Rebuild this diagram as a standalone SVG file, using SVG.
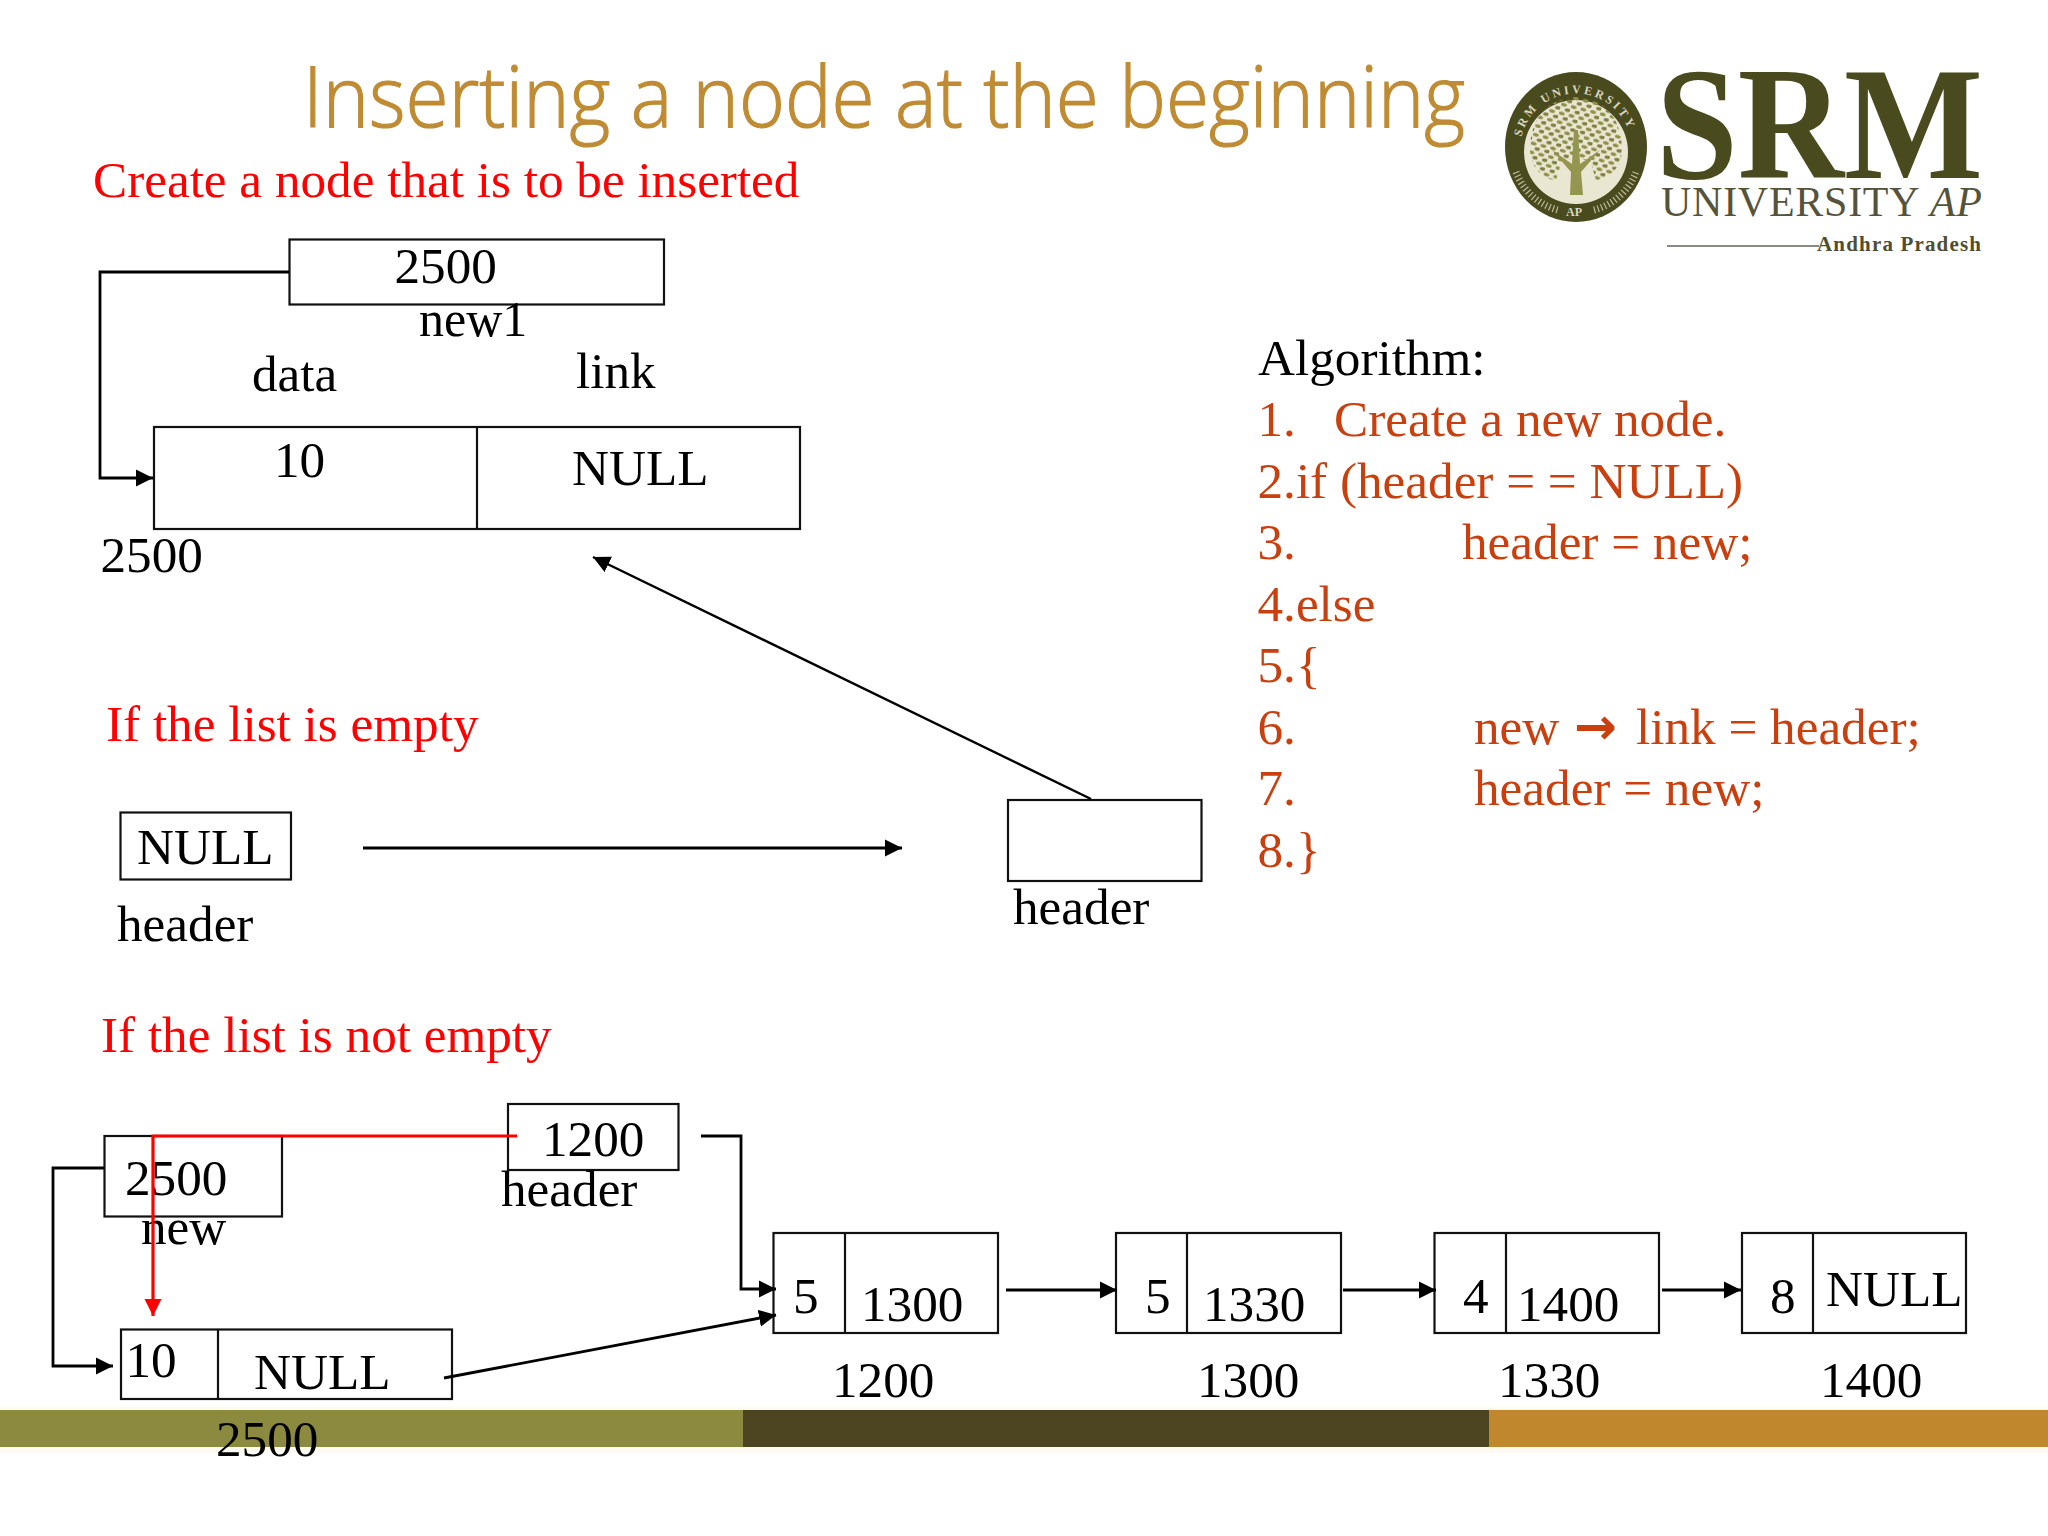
<svg xmlns="http://www.w3.org/2000/svg" width="2048" height="1536" viewBox="0 0 2048 1536">
<style>
.t{font-family:"Liberation Serif","Times New Roman",serif;font-size:51.2px;fill:#000}
.r{fill:#f00}
.a{fill:#c93f0e}
.b{fill:#fff;stroke:#111;stroke-width:2.2}
.d{fill:none;stroke:#111;stroke-width:2.2}
.c{fill:none;stroke:#000;stroke-width:2.8}
.m{fill:none;stroke:#f00;stroke-width:3.2}
.o{font-family:"Liberation Serif","Times New Roman",serif;fill:#4a4a1f}
</style>
<defs>
<marker id="ah" markerUnits="userSpaceOnUse" markerWidth="18" markerHeight="18" refX="17" refY="9" orient="auto"><path d="M0,0.5 L17,9 L0,17.5Z" fill="#000"/></marker>
<marker id="ahr" markerUnits="userSpaceOnUse" markerWidth="18" markerHeight="18" refX="17" refY="9" orient="auto"><path d="M0,0.5 L17,9 L0,17.5Z" fill="#f00"/></marker>
<pattern id="leaf" width="10" height="9" patternUnits="userSpaceOnUse" patternTransform="rotate(14)"><ellipse cx="2.8" cy="2.2" rx="3" ry="1.8" fill="#8f9048"/><ellipse cx="7.8" cy="6.7" rx="3" ry="1.8" fill="#7d7f3e"/></pattern>
<clipPath id="canopy"><path d="M1530,150 C1530,112 1555,97 1576,97 C1597,97 1622,112 1622,150 C1622,165 1610,180 1596,180 L1590,160 L1562,160 L1556,180 C1542,180 1530,165 1530,150Z"/></clipPath>
<path id="ringTop" d="M1521,160 A56,56 0 1 1 1631,160"/>
</defs>
<rect width="2048" height="1536" fill="#fff"/>

<g id="band">
<rect x="0" y="1407" width="2048" height="46" fill="#fdfbf1"/>
<rect x="0" y="1410" width="743" height="37" fill="#8b8a3e"/>
<rect x="743" y="1410" width="746" height="37" fill="#4d4522"/>
<rect x="1489" y="1410" width="559" height="37" fill="#c0872c"/>
</g>

<g id="title"><text x="303" y="127" font-family="'Open Sans','Noto Sans',sans-serif" font-weight="300" font-size="85" fill="#bf8b33" stroke="#bf8b33" stroke-width="1.2" textLength="1162" lengthAdjust="spacingAndGlyphs">Inserting a node at the beginning</text></g>

<g id="logo">
<ellipse cx="1576" cy="147" rx="71" ry="75" fill="#4a4a1f"/>
<ellipse cx="1576" cy="152" rx="52" ry="52" fill="#e9e6d2"/>
<path d="M1516,172 A62,62 0 0 0 1558,210 M1594,210 A62,62 0 0 0 1636,172" fill="none" stroke="#bdbc9a" stroke-width="7" stroke-dasharray="1.2 2.6"/>
<text class="o" font-size="12" font-weight="bold" letter-spacing="2.8" style="fill:#d9d7bf"><textPath href="#ringTop" startOffset="23">SRM UNIVERSITY</textPath></text>
<text class="o" x="1566" y="216" font-size="12" font-weight="bold" style="fill:#d9d7bf">AP</text>
<rect x="1525" y="95" width="102" height="90" fill="url(#leaf)" clip-path="url(#canopy)"/>
<path d="M1570,195 L1583,195 L1581,172 L1600,150 L1580,164 L1578,130 L1574,130 L1572,164 L1552,150 L1571,172Z" fill="#94954e"/>
<text class="o" x="1656" y="178" font-size="160" font-weight="bold" textLength="327" lengthAdjust="spacingAndGlyphs">SRM</text>
<text class="o" x="1661" y="216" font-size="42" style="fill:#55543a" textLength="321">UNIVERSITY <tspan font-style="italic">AP</tspan></text>
<rect x="1667" y="245" width="152" height="2" fill="#8a8a82"/>
<text class="o" x="1817" y="251" font-size="21" font-weight="bold" style="fill:#4f4e30" textLength="164">Andhra Pradesh</text>
</g>

<g id="headings">
<text class="t r" x="93" y="197">Create a node that is to be inserted</text>
<text class="t r" x="106" y="741">If the list is empty</text>
<text class="t r" x="101" y="1052">If the list is not empty</text>
</g>

<g id="algorithm">
<text class="t" x="1258" y="375">Algorithm:</text>
<text class="t a" y="436"><tspan x="1257.5">1.</tspan><tspan x="1334">Create a new node.</tspan></text>
<text class="t a" x="1257.5" y="497.5">2.if (header = = NULL)</text>
<text class="t a" y="559"><tspan x="1257.5">3.</tspan><tspan x="1462">header = new;</tspan></text>
<text class="t a" x="1257.5" y="620.500">4.else</text>
<text class="t a" x="1257.5" y="682">5.{</text>
<text class="t a" y="744"><tspan x="1257.5">6.</tspan><tspan x="1474">new</tspan><tspan x="1574" font-family="'DejaVu Sans',sans-serif" font-weight="bold">→</tspan><tspan x="1636">link = header;</tspan></text>
<text class="t a" y="805"><tspan x="1257.5">7.</tspan><tspan x="1474">header = new;</tspan></text>
<text class="t a" x="1257.5" y="866.5">8.}</text>
</g>

<g id="node-new1"><rect class="b" x="289.500" y="239.500" width="374.500" height="65"/><text class="t" x="394.500" y="283">2500</text><text class="t" x="419" y="336" style="font-size:50px">new1</text></g>
<g id="node-first"><rect class="b" x="154" y="427" width="646" height="102"/><line class="d" x1="477" y1="427" x2="477" y2="529"/><text class="t" x="274" y="477">10</text><text class="t" x="572" y="485">NULL</text><text class="t" x="100.500" y="572">2500</text><text class="t" x="252" y="391">data</text><text class="t" x="576" y="388">link</text></g>
<g id="node-null-header"><rect class="b" x="120.500" y="812.500" width="170.500" height="67"/><text class="t" x="137" y="864">NULL</text><text class="t" x="117" y="941">header</text></g>
<g id="node-header-empty"><rect class="b" x="1008" y="800" width="193.500" height="81"/><text class="t" x="1013" y="924">header</text></g>

<g id="node-new2"><rect class="b" x="104.500" y="1136" width="177.500" height="80.500"/><text class="t" x="125" y="1195">2500</text><text class="t" x="141" y="1244">new</text></g>
<g id="node-header2"><rect class="b" x="508" y="1104" width="170.500" height="66"/><text class="t" x="542" y="1156">1200</text><text class="t" x="501" y="1206">header</text></g>
<g id="node-ins"><rect class="b" x="121" y="1329.500" width="331" height="69.500"/><line class="d" x1="218" y1="1329" x2="218" y2="1399"/><text class="t" x="125.500" y="1377">10</text><text class="t" x="254" y="1389">NULL</text><text class="t" x="216" y="1456">2500</text></g>

<g id="node-1200"><rect class="b" x="773.500" y="1233" width="224.500" height="100"/><line class="d" x1="845" y1="1233" x2="845" y2="1333"/><text class="t" x="793" y="1313">5</text><text class="t" x="861" y="1321">1300</text><text class="t" x="832" y="1397">1200</text></g>
<g id="node-1300"><rect class="b" x="1116" y="1233" width="225" height="100"/><line class="d" x1="1187" y1="1233" x2="1187" y2="1333"/><text class="t" x="1145" y="1313">5</text><text class="t" x="1203" y="1321">1330</text><text class="t" x="1197" y="1397">1300</text></g>
<g id="node-1330"><rect class="b" x="1434.500" y="1233" width="224.500" height="100"/><line class="d" x1="1506" y1="1233" x2="1506" y2="1333"/><text class="t" x="1463" y="1313">4</text><text class="t" x="1517" y="1321">1400</text><text class="t" x="1498" y="1397">1330</text></g>
<g id="node-1400"><rect class="b" x="1742" y="1233" width="224" height="100"/><line class="d" x1="1813" y1="1233" x2="1813" y2="1333"/><text class="t" x="1770" y="1313">8</text><text class="t" x="1826" y="1306">NULL</text><text class="t" x="1820" y="1397">1400</text></g>

<g id="connectors">
<path class="c" d="M289,272 H100 V478 H153" marker-end="url(#ah)"/>
<path class="c" d="M1091,799 L593,557" marker-end="url(#ah)" style="stroke-width:2.4"/>
<path class="c" d="M363,848 H902" marker-end="url(#ah)"/>
<path class="c" d="M104,1168 H53 V1366 H113" marker-end="url(#ah)"/>
<path class="c" d="M701,1136 H741 V1289 H776" marker-end="url(#ah)"/>
<path class="c" d="M444,1378 L776,1315" marker-end="url(#ah)"/>
<path class="c" d="M1006,1290 H1117" marker-end="url(#ah)"/>
<path class="c" d="M1343,1290 H1436" marker-end="url(#ah)"/>
<path class="c" d="M1662,1290 H1741" marker-end="url(#ah)"/>
<path class="m" d="M517,1136 H153 V1316" marker-end="url(#ahr)"/>
</g>
</svg>
